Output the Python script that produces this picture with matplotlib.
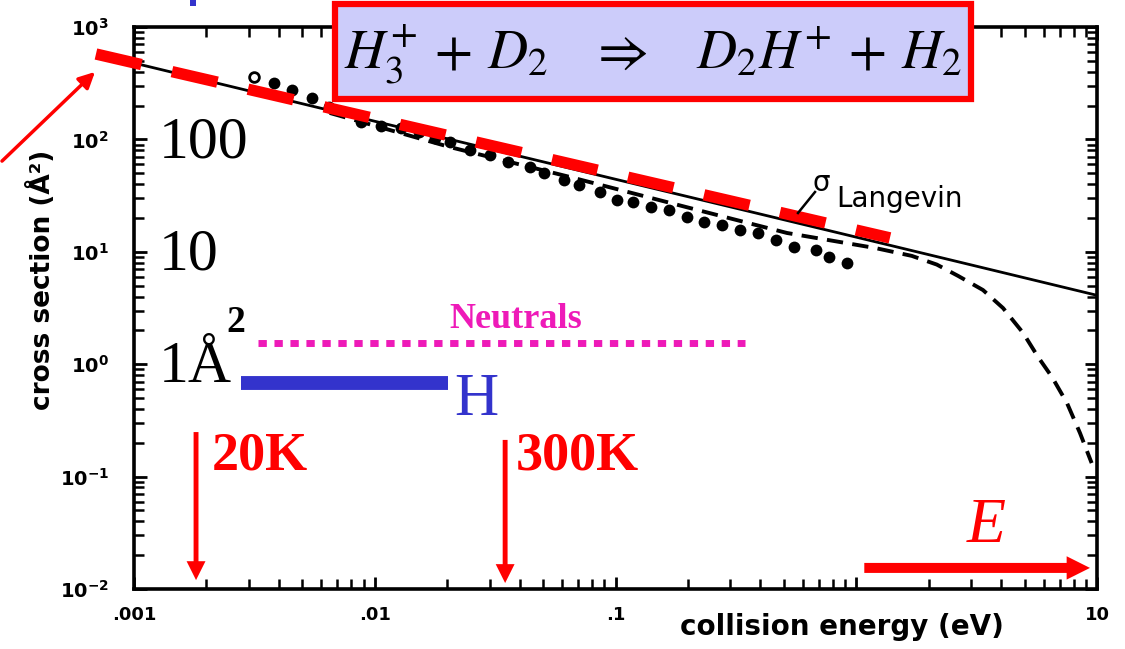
import matplotlib
matplotlib.use("Agg")
import matplotlib.pyplot as plt
from matplotlib.patches import Rectangle, FancyArrowPatch
from matplotlib.lines import Line2D
from matplotlib.ticker import FixedLocator, LogLocator, NullFormatter

# Langevin cross section (solid line)
langevin_E = [0.001, 0.01, 0.1, 1, 10]
langevin_sigma = [478, 145, 44.2, 13.5, 4.1]

# calculated cross section (black dashed curve)
theory_E = [0.0065, 0.0205, 0.0647, 0.204, 0.516, 1.2, 1.7, 2.16, 2.65, 3.36,
            4.07, 4.93, 5.69, 6.5, 7.51, 8.5, 9.5]
theory_sigma = [172, 85.5, 46.3, 24.5, 14.7, 10.8, 9.2, 7.7, 6.1, 4.57,
                3.16, 1.9, 1.16, 0.77, 0.45, 0.244, 0.132]

# measured points (first one is an open circle)
dot_E = [0.00315, 0.00382, 0.00453, 0.00549, 0.00646, 0.00877, 0.0106,
         0.01285, 0.01527, 0.0178, 0.02054, 0.0249, 0.0301, 0.0358, 0.0441,
         0.0505, 0.0611, 0.0705, 0.0862, 0.1015, 0.1182, 0.1404, 0.1668,
         0.198, 0.233, 0.277, 0.329, 0.391, 0.464, 0.551, 0.681, 0.77, 0.915]
dot_sigma = [359, 318, 275, 234, 194, 143, 132, 126, 116, 103, 94.8, 80.5,
             72.6, 62.9, 56.8, 50.2, 43.5, 39.3, 34.0, 28.9, 27.7, 25.0, 23.5,
             20.4, 18.4, 17.3, 15.6, 14.7, 12.7, 11.0, 10.4, 8.99, 7.95]

# red dashed guide line
guide_E = [0.000695, 1.38]
guide_sigma = [575, 13.3]

# annotation levels
neutral_E = [0.00327, 0.345]
neutral_sigma = [1.54, 1.54]
h_E = [0.00278, 0.0201]
h_sigma = [0.68, 0.68]
temp_E = [0.00181, 0.0348]
temp_labels = ["20K", "300K"]
temp_top = [0.249, 0.212]
temp_tip = [0.012, 0.0113]
e_arrow_E = [1.08, 9.35]
e_arrow_sigma = 0.0154

x_ticks = [0.001, 0.01, 0.1, 1, 10]
x_ticklabels = [".001", ".01", ".1", "", "10"]
y_ticks = [1e-2, 1e-1, 1e0, 1e1, 1e2, 1e3]
y_ticklabels = [r"$\mathbf{10^{%d}}$" % k for k in range(-2, 4)]

W, H = 1125, 649
fig = plt.figure(figsize=(W / 100, H / 100), dpi=100)


def fx(x):
    return x / W


def fy(y):
    return 1 - y / H


ax = fig.add_axes([fx(134), fy(589), (1097 - 134) / W, (589 - 27) / H])
ax.set_xscale("log")
ax.set_yscale("log")
ax.set_xlim(1e-3, 10)
ax.set_ylim(1e-2, 1e3)

ax.plot(langevin_E, langevin_sigma, color="black", lw=2)
ax.plot(theory_E, theory_sigma, color="black", lw=2.8, ls=(0, (4.2, 2.4)))
ax.plot(dot_E[1:], dot_sigma[1:], "o", color="black", ms=8.5, mew=0)
ax.plot(dot_E[:1], dot_sigma[:1], "o", mfc="white", mec="black", ms=7, mew=2)
ax.plot(guide_E, guide_sigma, color="red", lw=8.2, ls=(0, (4.1, 2.75)),
        clip_on=False, zorder=5)

magenta = "#ee1ab8"
blue = "#3333cc"
ax.plot(neutral_E, neutral_sigma, color=magenta, lw=5, ls=(0, (1.2, 1.1)))
ax.plot(h_E, h_sigma, color=blue, lw=10, solid_capstyle="butt")

for E, top, tip in zip(temp_E, temp_top, temp_tip):
    ax.annotate("", xy=(E, tip), xytext=(E, top),
                arrowprops=dict(arrowstyle="simple,head_length=0.85,head_width=0.85,tail_width=0.22",
                                color="red", lw=0, mutation_scale=16,
                                shrinkA=0, shrinkB=0))
ax.annotate("", xy=(e_arrow_E[1], e_arrow_sigma), xytext=(e_arrow_E[0], e_arrow_sigma),
            arrowprops=dict(arrowstyle="simple,head_length=1.05,head_width=1.05,tail_width=0.45",
                            color="red", lw=0, mutation_scale=16,
                            shrinkA=0, shrinkB=0))

# axes styling
ax.xaxis.set_major_locator(FixedLocator(x_ticks))
ax.set_xticklabels(x_ticklabels)
ax.yaxis.set_major_locator(FixedLocator(y_ticks))
ax.set_yticklabels(y_ticklabels)
ax.xaxis.set_minor_locator(LogLocator(base=10, subs=range(2, 10), numticks=20))
ax.yaxis.set_minor_locator(LogLocator(base=10, subs=range(2, 10), numticks=20))
ax.xaxis.set_minor_formatter(NullFormatter())
ax.yaxis.set_minor_formatter(NullFormatter())
ax.tick_params(which="major", direction="in", length=9, width=2,
               top=True, right=True)
ax.tick_params(which="minor", direction="in", length=7, width=1.8,
               top=True, right=True)
ax.tick_params(axis="x", pad=12, labelsize=13)
ax.tick_params(axis="y", pad=18, labelsize=14)
for lbl in ax.get_xticklabels():
    lbl.set_fontweight("bold")
for s in ax.spines.values():
    s.set_linewidth(2.6)

fig.text(fx(42), fy(280), "cross section (Å²)", rotation=90, ha="center",
         va="center", fontsize=19, weight="bold")
fig.text(fx(842), fy(627), "collision energy (eV)", ha="center", va="center",
         fontsize=20, weight="bold")

# sigma Langevin label
fig.text(fx(821), fy(183), "σ", fontsize=20, ha="center", va="center")
fig.text(fx(836), fy(207), "Langevin", fontsize=20, va="baseline")
fig.add_artist(Line2D([fx(798), fx(815)], [fy(213), fy(192)], color="black", lw=1.8))

# reaction box
fig.add_artist(Rectangle((fx(335), fy(99)), (971 - 335) / W, (99 - 4) / H,
                         transform=fig.transFigure, fc="#ccccfa", ec="red", lw=4.5))
fig.text(fx(653), fy(68), r"$H_3^{+} \,+\, D_2 \quad \Rightarrow \quad D_2H^{+} \,+\, H_2$",
         fontsize=40, ha="center", va="baseline", math_fontfamily="stix", zorder=4)
fig.add_artist(Rectangle((fx(190), fy(6)), 6 / W, 6 / H, transform=fig.transFigure,
                         fc="#3333cc", ec="none"))

# red arrow from the left
fig.add_artist(FancyArrowPatch((fx(0), fy(163)), (fx(97), fy(70)),
                               transform=fig.transFigure, arrowstyle="-|>",
                               color="red", lw=2.5, mutation_scale=24))

serif = "Liberation Serif"
fig.text(fx(159), fy(157), "100", family=serif, fontsize=43, va="baseline")
fig.text(fx(159), fy(270), "10", family=serif, fontsize=43, va="baseline")
fig.text(fx(159), fy(382), "1Å", family=serif, fontsize=43, va="baseline")
fig.text(fx(226), fy(332), "2", family=serif, fontsize=27, weight="bold", va="baseline")
fig.text(fx(516), fy(328), "Neutrals", family=serif, fontsize=26, weight="bold",
         color=magenta, ha="center", va="baseline")
fig.text(fx(454), fy(415), "H", family=serif, fontsize=44, color=blue, va="baseline")
fig.text(fx(212), fy(470), temp_labels[0], family=serif, fontsize=39, weight="bold",
         color="red", va="baseline")
fig.text(fx(516), fy(470), temp_labels[1], family=serif, fontsize=39, weight="bold",
         color="red", va="baseline")
fig.text(fx(967), fy(542), "E", family=serif, fontsize=46, style="italic",
         color="red", va="baseline")

fig.savefig("out.png", dpi=100)
